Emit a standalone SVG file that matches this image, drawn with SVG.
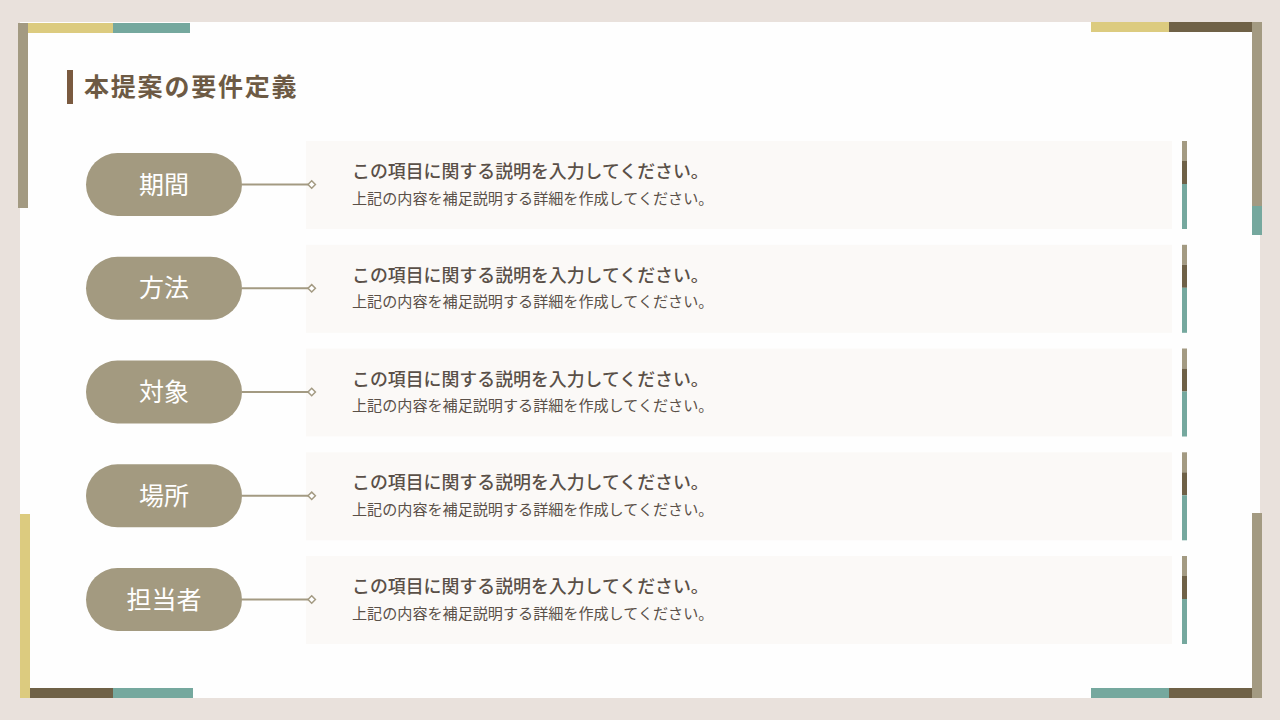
<svg xmlns="http://www.w3.org/2000/svg" width="1280" height="720" viewBox="0 0 1280 720">
<defs>
<style>
.pill{fill:#a39a80}
.pt{font-family:"Noto Sans CJK JP","Noto Sans",sans-serif;font-size:25px;fill:#ffffff;text-anchor:middle}
.box{fill:#fbf9f7}
.t1{font-family:"Noto Sans CJK JP","Noto Sans",sans-serif;font-size:17.9px;font-weight:500;fill:#5a5048}
.t2{font-family:"Noto Sans CJK JP","Noto Sans",sans-serif;font-size:15.1px;fill:#5a5048}
.conn{stroke:#a39a82;stroke-width:2;fill:none}
.dia{fill:#ffffff;stroke:#a39a82;stroke-width:1.5}
.a1{fill:#a39a82}.a2{fill:#6f6147}.a3{fill:#75a89e}
</style>
</defs>
<rect width="1280" height="720" fill="#e9e1dc"/>
<rect x="20" y="22" width="1240" height="676" fill="#fefefe"/>
<!-- corner bars -->
<rect x="18" y="23" width="10" height="185" fill="#a39a82"/>
<rect x="28" y="23" width="85" height="10" fill="#dccb7f"/>
<rect x="113" y="23" width="77" height="10" fill="#75a89e"/>
<rect x="1091" y="22" width="78" height="10" fill="#dccb7f"/>
<rect x="1169" y="22" width="83" height="10" fill="#6f6147"/>
<rect x="1252" y="22" width="10" height="184" fill="#a39a82"/>
<rect x="1252" y="206" width="10" height="29" fill="#75a89e"/>
<rect x="20" y="514" width="10" height="184" fill="#dccb7f"/>
<rect x="30" y="688" width="83" height="10" fill="#6f6147"/>
<rect x="113" y="688" width="80" height="10" fill="#75a89e"/>
<rect x="1252" y="513" width="10" height="185" fill="#a39a82"/>
<rect x="1091" y="688" width="78" height="10" fill="#75a89e"/>
<rect x="1169" y="688" width="83" height="10" fill="#6f6147"/>
<!-- title -->
<g id="title">
<rect x="67" y="70" width="6" height="34" fill="#7a5a40"/>
<text x="84" y="96" font-family="'Noto Sans CJK JP','Noto Sans',sans-serif" font-size="25" font-weight="700" fill="#6d5a44" letter-spacing="1.8">本提案の要件定義</text>
</g>
<!-- rows -->
<g id="row1">
<rect class="pill" x="86" y="153" width="156" height="63" rx="31.5"/>
<text class="pt" x="164" y="193.5">期間</text>
<rect class="box" x="306" y="141" width="866" height="88"/>
<rect class="a1" x="1182" y="141" width="5" height="20"/><rect class="a2" x="1182" y="161" width="5" height="23"/><rect class="a3" x="1182" y="184" width="5" height="45"/>
<text class="t1" x="352" y="178">この項目に関する説明を入力してください。</text>
<text class="t2" x="352" y="203.5">上記の内容を補足説明する詳細を作成してください。</text>
</g>
<g id="row2">
<rect class="pill" x="86" y="256.8" width="156" height="63" rx="31.5"/>
<text class="pt" x="164" y="297.3">方法</text>
<rect class="box" x="306" y="244.8" width="866" height="88"/>
<rect class="a1" x="1182" y="244.8" width="5" height="20"/><rect class="a2" x="1182" y="264.8" width="5" height="23"/><rect class="a3" x="1182" y="287.8" width="5" height="45"/>
<text class="t1" x="352" y="281.8">この項目に関する説明を入力してください。</text>
<text class="t2" x="352" y="307.3">上記の内容を補足説明する詳細を作成してください。</text>
</g>
<g id="row3">
<rect class="pill" x="86" y="360.5" width="156" height="63" rx="31.5"/>
<text class="pt" x="164" y="401">対象</text>
<rect class="box" x="306" y="348.5" width="866" height="88"/>
<rect class="a1" x="1182" y="348.5" width="5" height="20"/><rect class="a2" x="1182" y="368.5" width="5" height="23"/><rect class="a3" x="1182" y="391.5" width="5" height="45"/>
<text class="t1" x="352" y="385.5">この項目に関する説明を入力してください。</text>
<text class="t2" x="352" y="411">上記の内容を補足説明する詳細を作成してください。</text>
</g>
<g id="row4">
<rect class="pill" x="86" y="464.3" width="156" height="63" rx="31.5"/>
<text class="pt" x="164" y="504.8">場所</text>
<rect class="box" x="306" y="452.3" width="866" height="88"/>
<rect class="a1" x="1182" y="452.3" width="5" height="20"/><rect class="a2" x="1182" y="472.3" width="5" height="23"/><rect class="a3" x="1182" y="495.3" width="5" height="45"/>
<text class="t1" x="352" y="489.3">この項目に関する説明を入力してください。</text>
<text class="t2" x="352" y="514.8">上記の内容を補足説明する詳細を作成してください。</text>
</g>
<g id="row5">
<rect class="pill" x="86" y="568" width="156" height="63" rx="31.5"/>
<text class="pt" x="164" y="608.5">担当者</text>
<rect class="box" x="306" y="556" width="866" height="88"/>
<rect class="a1" x="1182" y="556" width="5" height="20"/><rect class="a2" x="1182" y="576" width="5" height="23"/><rect class="a3" x="1182" y="599" width="5" height="45"/>
<text class="t1" x="352" y="593">この項目に関する説明を入力してください。</text>
<text class="t2" x="352" y="618.5">上記の内容を補足説明する詳細を作成してください。</text>
</g>
<!-- connectors -->
<g id="connectors">
<line class="conn" x1="242" y1="184.5" x2="308" y2="184.5"/>
<path class="dia" d="M311.7 180.8 L315.4 184.5 L311.7 188.2 L308 184.5 Z"/>
<line class="conn" x1="242" y1="288.3" x2="308" y2="288.3"/>
<path class="dia" d="M311.7 284.6 L315.4 288.3 L311.7 292 L308 288.3 Z"/>
<line class="conn" x1="242" y1="392" x2="308" y2="392"/>
<path class="dia" d="M311.7 388.3 L315.4 392 L311.7 395.7 L308 392 Z"/>
<line class="conn" x1="242" y1="495.8" x2="308" y2="495.8"/>
<path class="dia" d="M311.7 492.1 L315.4 495.8 L311.7 499.5 L308 495.8 Z"/>
<line class="conn" x1="242" y1="599.5" x2="308" y2="599.5"/>
<path class="dia" d="M311.7 595.8 L315.4 599.5 L311.7 603.2 L308 599.5 Z"/>
</g>
</svg>
